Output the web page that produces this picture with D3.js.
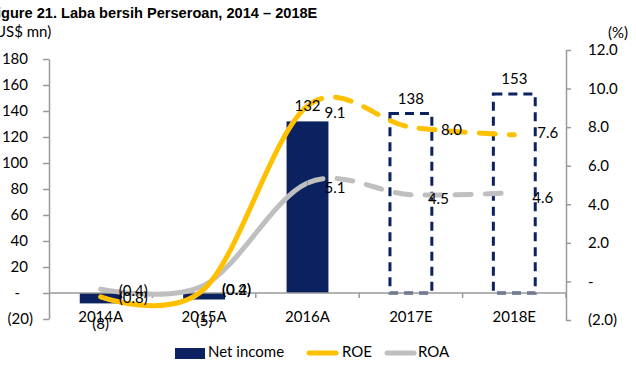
<!DOCTYPE html>
<html>
<head>
<meta charset="utf-8">
<script src="https://cdn.jsdelivr.net/npm/d3@7"></script>
<style>
  html, body { margin: 0; padding: 0; background: #ffffff; }
  svg { display: block; }
  text { font-family: Lato, "Open Sans", sans-serif; fill: #000; }
</style>
</head>
<body>
<svg id="chart" width="636" height="372"></svg>
<script>
// ---------- data ----------
const categories = ["2014A", "2015A", "2016A", "2017E", "2018E"];
const netIncome = [-8, -5, 132, 138, 153];
const isEstimate = [false, false, false, true, true];
const roe = [-0.8, -0.4, 9.1, 8.0, 7.6];
const roa = [-0.4, -0.2, 5.1, 4.5, 4.6];
const leftTicks = [-20, 0, 20, 40, 60, 80, 100, 120, 140, 160, 180];
const rightTicks = [-2, 0, 2, 4, 6, 8, 10, 12];
const titleText = "Figure 21. Laba bersih Perseroan, 2014 \u2013 2018E";
const unitLeft = "(US$ mn)";
const unitRight = "(%)";
const legendLabels = ["Net income", "ROE", "ROA"];

// ---------- layout / style ----------
const NAVY = "#0b2160", GOLD = "#FFC000", GREY = "#BFBFBF", AXIS = "#9a9a9a";
const svg = d3.select("#chart");

const x = d3.scaleBand().domain(categories).range([49, 566]);
const yL = d3.scaleLinear().domain([-20, 180]).range([319, 59]);
const yR = d3.scaleLinear().domain([-2, 12]).range([320, 50]);
const cx = c => x(c) + x.bandwidth() / 2;

// title
const TITLE_FONT = "'Liberation Sans', Arial, sans-serif";
const title = svg.append("text").attr("y", 18)
  .style("font-family", TITLE_FONT)
  .style("font-weight", "bold").style("font-size", "14.6px").text(titleText);
{
  const m = svg.append("text").style("font-family", TITLE_FONT)
    .style("font-weight", "bold").style("font-size", "14.6px").text("Fi");
  const w = m.node().getComputedTextLength(); m.remove();
  title.attr("x", 1 - w);
}
// unit labels
const unitL = svg.append("text").attr("y", 37).style("font-size", "15px").text(unitLeft);
{
  const m1 = svg.append("text").style("font-size", "15px").text("(");
  const m2 = svg.append("text").style("font-size", "15px").text("U");
  const w1 = m1.node().getComputedTextLength(), w2 = m2.node().getComputedTextLength();
  m1.remove(); m2.remove();
  unitL.attr("x", -(w1 + w2 * 0.45));
}
svg.append("text").attr("x", 608).attr("y", 38).style("font-size", "15px").text(unitRight);

// ---------- axes ----------
const fmtL = v => v < 0 ? "(" + Math.abs(v) + ")" : (v === 0 ? "-" : String(v));
const axL = svg.append("g").attr("transform", "translate(49,0)")
  .call(d3.axisLeft(yL).tickValues(leftTicks).tickSize(6).tickSizeOuter(0).tickFormat(fmtL));
axL.selectAll("text").style("font-size", "15px").style("font-family", "Lato")
  .attr("text-anchor", "end")
  .attr("x", d => d < 0 ? -16 : (d === 0 ? -29 : -21));

const fmtR = v => v < 0 ? "(" + Math.abs(v).toFixed(1) + ")" : (v === 0 ? "-" : v.toFixed(1));
const axR = svg.append("g").attr("transform", "translate(566,0)")
  .call(d3.axisRight(yR).tickValues(rightTicks).tickSize(5).tickSizeOuter(0).tickFormat(fmtR));
axR.selectAll("text").style("font-size", "15px").style("font-family", "Lato")
  .attr("text-anchor", "start").attr("x", 22);

[axL, axR].forEach(a => {
  a.selectAll("path, line").attr("stroke", AXIS).attr("stroke-width", 1.5);
  a.selectAll("text").attr("fill", "#000");
});

// category labels
svg.append("g").selectAll("text").data(categories).join("text")
  .attr("x", d => cx(d)).attr("y", 322).attr("text-anchor", "middle")
  .style("font-size", "15px").text(d => d);

// ---------- bars ----------
const bw = x.bandwidth() * 0.405;
const bars = svg.append("g");
categories.forEach((c, i) => {
  const v = netIncome[i];
  const y0 = yL(0), y1 = yL(v);
  const r = bars.append("rect")
    .attr("x", cx(c) - bw / 2).attr("y", Math.min(y0, y1))
    .attr("width", bw).attr("height", Math.abs(y1 - y0));
  if (isEstimate[i]) {
    r.attr("fill", "none").attr("stroke", NAVY).attr("stroke-width", 3)
     .attr("stroke-dasharray", "9,6");
  } else {
    r.attr("fill", NAVY);
  }
});

// x axis line with category boundary ticks
const xAxisG = svg.append("g");
xAxisG.append("line").attr("x1", x.range()[0]).attr("x2", x.range()[1])
  .attr("y1", yL(0)).attr("y2", yL(0)).attr("stroke", AXIS).attr("stroke-width", 1.5);
d3.range(1, categories.length + 1).forEach(k => {
  const xx = x.range()[0] + k * x.step();
  xAxisG.append("line").attr("x1", xx).attr("x2", xx)
    .attr("y1", yL(0)).attr("y2", yL(0) + 5).attr("stroke", AXIS).attr("stroke-width", 1.5);
});

// ---------- lines ----------
const splitX = cx(categories[2]);
const defs = svg.append("defs");
defs.append("clipPath").attr("id", "clipSolid").append("rect")
  .attr("x", 0).attr("y", 0).attr("width", splitX).attr("height", 372);
defs.append("clipPath").attr("id", "clipDash").append("rect")
  .attr("x", splitX).attr("y", 0).attr("width", 636 - splitX).attr("height", 372);

const lineGen = d3.line()
  .x((d, i) => cx(categories[i]))
  .y(d => yR(d))
  .curve(d3.curveCardinal.tension(0));

function drawSeries(vals, color) {
  const g = svg.append("g");
  const dStr = lineGen(vals);
  const solid = g.append("path").attr("d", dStr).attr("fill", "none")
    .attr("stroke", color).attr("stroke-width", 5)
    .attr("stroke-linecap", "round").attr("stroke-linejoin", "round")
    .attr("clip-path", "url(#clipSolid)");
  const node = solid.node();
  const total = node.getTotalLength();
  let lo = 0, hi = total;
  for (let k = 0; k < 40; k++) {
    const mid = (lo + hi) / 2;
    if (node.getPointAtLength(mid).x < splitX) lo = mid; else hi = mid;
  }
  g.append("path").attr("d", dStr).attr("fill", "none")
    .attr("stroke", color).attr("stroke-width", 5)
    .attr("stroke-linecap", "round")
    .attr("stroke-dasharray", "16,14").attr("stroke-dashoffset", -lo)
    .attr("clip-path", "url(#clipDash)");
}
drawSeries(roa, GREY);
drawSeries(roe, GOLD);

// ---------- labels ----------
const fmtPct = v => v < 0 ? "(" + Math.abs(v).toFixed(1) + ")" : v.toFixed(1);
const labG = svg.append("g").style("font-size", "15px");
categories.forEach((c, i) => {
  const v = netIncome[i];
  labG.append("text").attr("x", cx(c)).attr("text-anchor", "middle")
    .attr("y", v >= 0 ? yL(v) - 10 : yL(v) + 26)
    .text(v < 0 ? "(" + Math.abs(v) + ")" : String(v));
});
const roeLabelDx = [18, 18, 17, 30, 23];
const roeLabelDy = [1, 1, 7, 3, -2];
const roaLabelDx = [18, 18, 17, 17, 18];
const roaLabelDy = [2, 4, 5, 4, 5];
function seriesLabels(vals, dxs, dys) {
  categories.forEach((c, i) => {
    labG.append("text").attr("x", cx(c) + dxs[i]).attr("y", yR(vals[i]) + dys[i])
      .attr("dy", "0.35em").text(fmtPct(vals[i]));
  });
}
seriesLabels(roa, roaLabelDx, roaLabelDy);
seriesLabels(roe, roeLabelDx, roeLabelDy);

// ---------- legend ----------
const lg = svg.append("g").style("font-size", "15px");
lg.append("rect").attr("x", 175).attr("y", 348).attr("width", 30).attr("height", 11).attr("fill", NAVY);
lg.append("text").attr("x", 208).attr("y", 357).text(legendLabels[0]);
lg.append("line").attr("x1", 309).attr("x2", 336).attr("y1", 353).attr("y2", 353)
  .attr("stroke", GOLD).attr("stroke-width", 5).attr("stroke-linecap", "round");
lg.append("text").attr("x", 342).attr("y", 357).text(legendLabels[1]);
lg.append("line").attr("x1", 387).attr("x2", 414).attr("y1", 353).attr("y2", 353)
  .attr("stroke", GREY).attr("stroke-width", 5).attr("stroke-linecap", "round");
lg.append("text").attr("x", 418).attr("y", 357).text(legendLabels[2]);
</script>
</body>
</html>
